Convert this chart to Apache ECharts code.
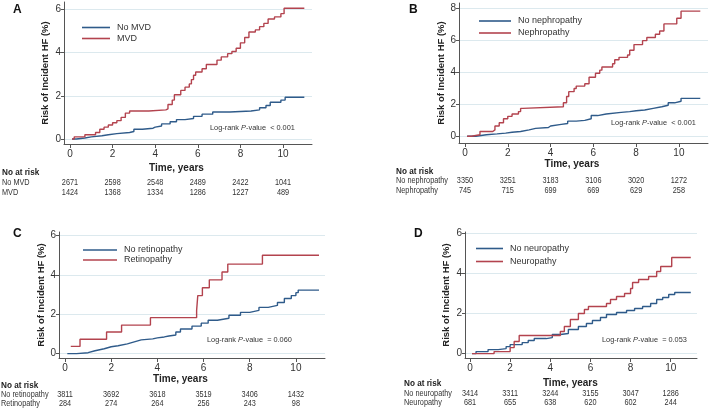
<!DOCTYPE html>
<html><head><meta charset="utf-8">
<script src="https://cdn.jsdelivr.net/npm/echarts@6/dist/echarts.min.js"></script>
<style>html,body{margin:0;padding:0;background:#fff}#c{width:709px;height:409px}</style>
</head><body><div id="c"></div><script>
// ---- data ----
const xTickValues = [0, 2, 4, 6, 8, 10];
const yTicksA = [0, 2, 4, 6];
const yTicksB = [0, 2, 4, 6, 8];
const yTicksC = [0, 2, 4, 6];
const yTicksD = [0, 2, 4, 6];

const A_noMVD = [[0.1,0],[0.3,0.05],[0.7,0.1],[1.0,0.15],[1.5,0.2],[1.8,0.25],[2.2,0.3],[2.8,0.35],[3.0,0.45],[3.4,0.5],[3.9,0.55],[4.0,0.6],[4.3,0.7],[4.7,0.8],[5.0,0.9],[5.4,0.95],[5.8,1.05],[6.2,1.15],[6.7,1.25],[7.5,1.3],[8.5,1.35],[8.9,1.45],[9.2,1.55],[9.4,1.7],[9.9,1.8],[10.1,1.93],[11.0,1.93]];
const A_MVD = [[0.1,0],[0.2,0.1],[0.7,0.2],[1.2,0.3],[1.4,0.45],[1.6,0.55],[1.8,0.65],[2.0,0.75],[2.2,0.85],[2.4,1.0],[2.6,1.2],[2.8,1.3],[3.7,1.35],[4.5,1.4],[4.6,1.6],[4.8,1.8],[4.9,2.05],[5.2,2.25],[5.4,2.4],[5.6,2.55],[5.7,2.75],[5.8,2.95],[5.9,3.1],[6.2,3.25],[6.4,3.45],[6.7,3.45],[6.9,3.65],[7.1,3.8],[7.4,3.95],[7.6,4.05],[7.8,4.2],[8.0,4.45],[8.2,4.7],[8.4,4.95],[8.7,5.05],[8.9,5.2],[9.1,5.35],[9.3,5.55],[9.6,5.65],[9.9,5.8],[10.05,6.05],[11.0,6.05]];

const B_noNeph = [[0.1,0],[0.5,0.1],[1.0,0.15],[1.5,0.2],[1.9,0.25],[2.2,0.3],[2.6,0.4],[3.0,0.5],[3.3,0.55],[3.9,0.65],[4.0,0.75],[4.5,0.8],[4.8,0.95],[5.2,1.0],[5.6,1.1],[5.9,1.3],[6.2,1.4],[6.6,1.5],[7.3,1.55],[7.7,1.6],[8.0,1.65],[8.4,1.75],[8.8,1.85],[9.2,1.95],[9.5,2.1],[9.8,2.2],[10.1,2.38],[11.0,2.4]];
const B_neph = [[0.1,0],[0.3,0.1],[0.7,0.3],[1.3,0.4],[1.4,0.65],[1.6,0.85],[1.8,1.1],[2.0,1.25],[2.2,1.4],[2.5,1.55],[2.6,1.75],[2.7,1.85],[4.6,2.1],[4.75,2.5],[4.85,2.8],[5.1,3.0],[5.2,3.15],[5.6,3.3],[5.8,3.7],[6.1,3.95],[6.3,4.15],[6.4,4.35],[6.9,4.55],[7.0,4.8],[7.2,4.95],[7.6,5.1],[7.7,5.4],[7.9,5.75],[8.3,6.0],[8.5,6.2],[8.9,6.4],[9.1,6.6],[9.3,7.05],[9.9,7.4],[10.1,7.85],[11.0,7.85]];

const C_noRet = [[0.1,0],[0.5,0.05],[1.0,0.15],[1.3,0.25],[1.7,0.35],[2.0,0.4],[2.3,0.5],[2.7,0.6],[3.0,0.7],[3.3,0.75],[3.8,0.8],[4.0,0.85],[4.3,0.9],[4.5,0.95],[4.8,1.1],[5.0,1.25],[5.5,1.4],[5.9,1.55],[6.2,1.7],[6.6,1.8],[7.1,1.95],[7.6,2.1],[8.0,2.2],[8.4,2.35],[8.8,2.45],[9.2,2.6],[9.5,2.8],[9.8,2.95],[10.0,3.1],[10.1,3.23],[11.0,3.23]];
const C_ret = [[0.25,0.37],[0.65,0.73],[1.8,1.1],[2.45,1.45],[3.7,1.83],[5.7,2.2],[5.75,2.95],[5.95,3.35],[6.25,3.75],[6.8,4.15],[7.05,4.55],[8.55,5.0],[11.0,5.0]];

const D_noNeuro = [[0.1,0],[0.3,0.1],[0.9,0.2],[1.4,0.25],[1.8,0.35],[2.0,0.45],[2.6,0.55],[2.9,0.65],[3.2,0.75],[3.8,0.8],[4.1,0.95],[4.5,1.0],[4.9,1.2],[5.4,1.35],[5.8,1.5],[6.1,1.65],[6.5,1.8],[6.8,1.95],[7.3,2.05],[7.8,2.15],[8.2,2.25],[8.6,2.35],[9.0,2.5],[9.3,2.7],[9.6,2.8],[9.9,2.95],[10.2,3.05],[11.0,3.05]];
const D_neuro = [[0.1,0],[1.2,0.1],[2.0,0.3],[2.2,0.6],[2.45,0.9],[4.5,1.1],[4.7,1.35],[5.0,1.7],[5.4,2.0],[5.7,2.2],[5.9,2.35],[6.8,2.5],[7.0,2.7],[7.3,2.85],[7.7,3.0],[8.0,3.25],[8.1,3.55],[8.4,3.7],[8.9,3.85],[9.3,4.1],[9.5,4.35],[10.05,4.8],[11.0,4.8]];

const atRiskA_no = [2671, 2598, 2548, 2489, 2422, 1041];
const atRiskA_yes = [1424, 1368, 1334, 1286, 1227, 489];
const atRiskB_no = [3350, 3251, 3183, 3106, 3020, 1272];
const atRiskB_yes = [745, 715, 699, 669, 629, 258];
const atRiskC_no = [3811, 3692, 3618, 3519, 3406, 1432];
const atRiskC_yes = [284, 274, 264, 256, 243, 98];
const atRiskD_no = [3414, 3311, 3244, 3155, 3047, 1286];
const atRiskD_yes = [681, 655, 638, 620, 602, 244];

// ---- layout ----
const FONT = "'Liberation Sans', Arial, sans-serif";
const BLUE = '#2f5b8a', RED = '#b3434e';
const SX = 0.86; // horizontal compression of small texts as in the reference
const panels = [
  { letter:'A', lp:[13,4], names:['No MVD','MVD'], data:[A_noMVD, A_MVD], risk:[atRiskA_no, atRiskA_yes], p:'< 0.001',
    grid:{left:64, top:2, width:248, height:142}, x:[-0.28, 11.36], y:[-0.23, 6.34], yt:yTicksA,
    yGap:14, xTitleY:168, legend:{left:77, top:17, w:28, lh:11}, pPos:[210,128], table:{x:2, y:[172,183,193]} },
  { letter:'B', lp:[409,4], names:['No nephropathy','Nephropathy'], data:[B_noNeph, B_neph], risk:[atRiskB_no, atRiskB_yes], p:'< 0.001',
    grid:{left:459, top:3, width:249, height:140}, x:[-0.28, 11.36], y:[-0.42, 8.36], yt:yTicksB,
    yGap:13, xTitleY:164, legend:{left:474, top:10, w:32, lh:12}, pPos:[611,123], table:{x:396, y:[171,181,191]} },
  { letter:'C', lp:[13,228], names:['No retinopathy','Retinopathy'], data:[C_noRet, C_ret], risk:[atRiskC_no, atRiskC_yes], p:'= 0.060',
    grid:{left:59, top:232, width:266, height:126}, x:[-0.26, 11.26], y:[-0.22, 6.18], yt:yTicksC,
    yGap:12, xTitleY:379, legend:{left:78, top:240, w:34, lh:10}, pPos:[207,340], table:{x:1, y:[385,395,404]} },
  { letter:'D', lp:[414,228], names:['No neuropathy','Neuropathy'], data:[D_noNeuro, D_neuro], risk:[atRiskD_no, atRiskD_yes], p:'= 0.053',
    grid:{left:465, top:232, width:232, height:126}, x:[-0.25, 11.31], y:[-0.22, 6.07], yt:yTicksD,
    yGap:14, xTitleY:383, legend:{left:471, top:237, w:27, lh:13}, pPos:[602,340], table:{x:404, y:[383,394,403]} }
];

const chart = echarts.init(document.getElementById('c'), null, {renderer:'canvas'});
const grid = [], xAxis = [], yAxis = [], series = [], legend = [], graphic = [];
panels.forEach((p, i) => {
  grid.push(Object.assign({containLabel:false}, p.grid));
  xAxis.push({ type:'value', gridIndex:i, min:p.x[0], max:p.x[1],
    axisLine:{show:true, onZero:false, lineStyle:{color:'#555', width:1}},
    axisTick:{show:true, length:4, lineStyle:{color:'#555'}, customValues:xTickValues},
    axisLabel:{color:'#333', fontSize:10, fontFamily:FONT, margin:5, customValues:xTickValues},
    splitLine:{show:false} });
  yAxis.push({ type:'value', gridIndex:i, min:p.y[0], max:p.y[1],
    name:'Risk of Incident HF (%)', nameLocation:'middle', nameGap:p.yGap,
    nameTextStyle:{color:'#222', fontSize:9.5, fontWeight:'bold', fontFamily:FONT},
    axisLine:{show:true, onZero:false, lineStyle:{color:'#555', width:1}},
    axisTick:{show:true, length:3, lineStyle:{color:'#555'}, customValues:p.yt},
    axisLabel:{color:'#333', fontSize:10, fontFamily:FONT, margin:3, customValues:p.yt},
    splitLine:{show:true, lineStyle:{color:'#dce9ee', width:1}} });
  [BLUE, RED].forEach((col, k) => {
    series.push({ type:'line', name:p.names[k], xAxisIndex:i, yAxisIndex:i, step:'end',
      data:p.data[k], showSymbol:false, symbol:'none', lineStyle:{color:col, width:1.4}, itemStyle:{color:col} });
  });
  legend.push({ data:p.names, orient:'vertical', left:p.legend.left, top:p.legend.top,
    icon:'rect', itemWidth:p.legend.w, itemHeight:1.6, itemGap:0,
    textStyle:{fontSize:9, fontFamily:FONT, color:'#333', lineHeight:p.legend.lh, padding:[0,0,0,2]} });
  graphic.push({ type:'text', left:p.lp[0], top:p.lp[1],
    style:{text:p.letter, font:'bold 12px ' + FONT, fill:'#111'} });
  graphic.push({ type:'text', x:p.pPos[0], y:p.pPos[1], scaleX:0.92,
    style:{text:'Log-rank {i|P}-value  ' + p.p, font:'8px ' + FONT, fill:'#333', textVerticalAlign:'middle',
      rich:{i:{fontStyle:'italic', fontSize:8, fontFamily:FONT, fill:'#333'}}} });
});

chart.setOption({ animation:false, backgroundColor:'#fff', grid, xAxis, yAxis, series, legend, graphic });

// positions from axes for the x titles and at-risk tables
const extra = [];
panels.forEach((p, i) => {
  const cx = chart.convertToPixel({xAxisIndex:i}, 5);
  extra.push({ type:'text', x:cx, y:p.xTitleY,
    style:{text:'Time, years', font:'bold 10px ' + FONT, fill:'#222', textAlign:'center', textVerticalAlign:'middle'} });
  extra.push({ type:'text', x:p.table.x, y:p.table.y[0], scaleX:SX,
    style:{text:'No at risk', font:'bold 9.5px ' + FONT, fill:'#222', textVerticalAlign:'middle'} });
  p.names.forEach((nm, k) => {
    extra.push({ type:'text', x:p.table.x, y:p.table.y[k+1], scaleX:SX,
      style:{text:nm, font:'8.5px ' + FONT, fill:'#333', textVerticalAlign:'middle'} });
    p.risk[k].forEach((v, j) => {
      const px = chart.convertToPixel({xAxisIndex:i}, xTickValues[j]);
      extra.push({ type:'text', x:px, y:p.table.y[k+1], scaleX:SX,
        style:{text:String(v), font:'8.5px ' + FONT, fill:'#333', textAlign:'center', textVerticalAlign:'middle'} });
    });
  });
});
chart.setOption({ graphic: graphic.concat(extra) });
</script></body></html>
